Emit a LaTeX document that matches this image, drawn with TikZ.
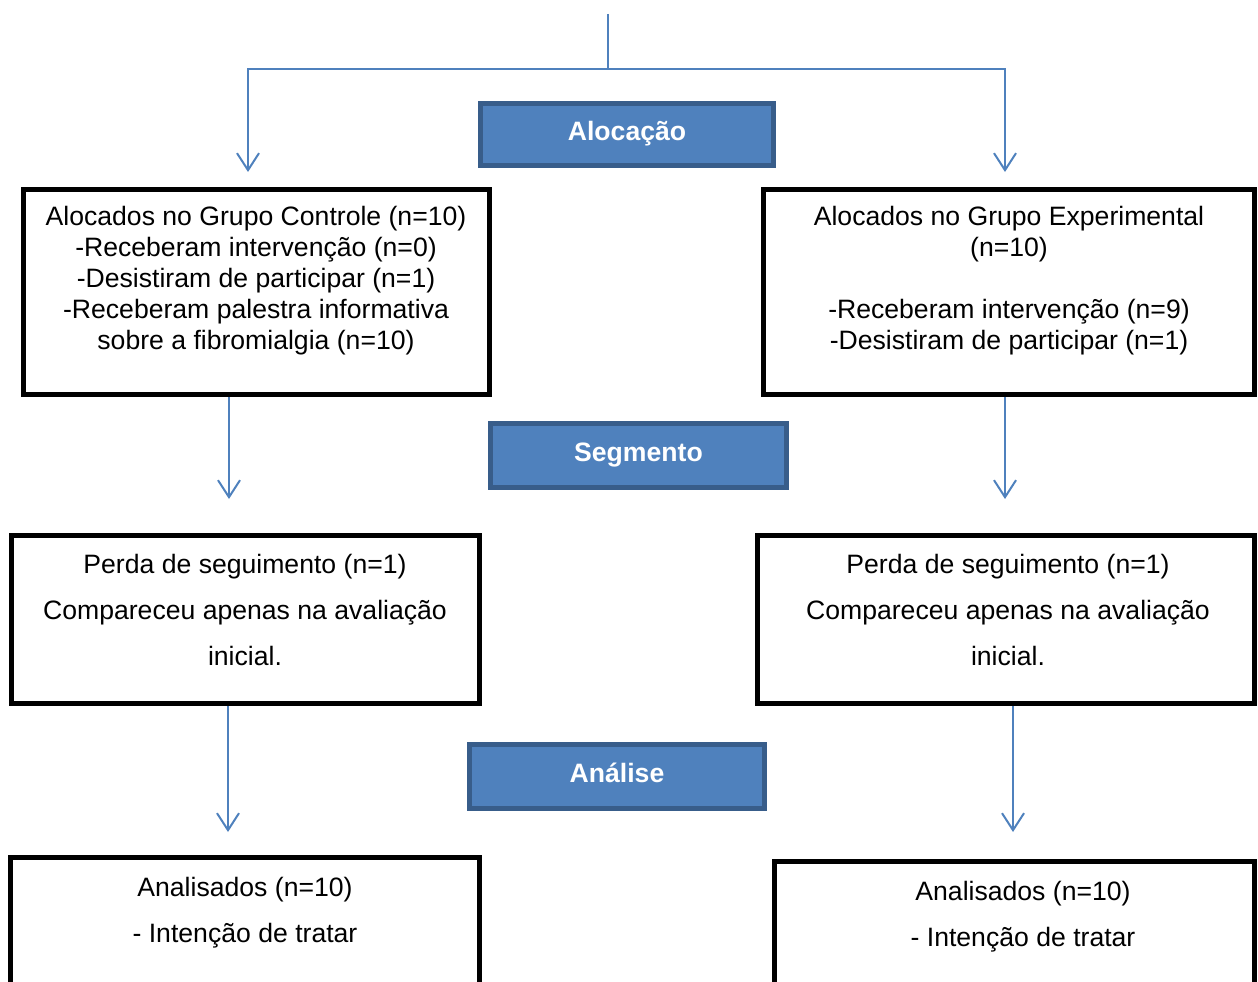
\documentclass[tikz,border=0pt]{standalone}
\usepackage{fontspec}
\setmainfont{Liberation Sans}
\usetikzlibrary{arrows.meta}
\definecolor{lineblue}{RGB}{79,129,189}
\definecolor{boxblue}{RGB}{79,129,189}
\definecolor{boxedge}{RGB}{56,93,138}
\begin{document}
\begin{tikzpicture}[x=1pt,y=-1pt,
  conn/.style={draw=lineblue,line width=2pt},
  arr/.style={conn,-{Straight Barb[length=17pt,width=22pt]}},
  bluebox/.style={draw=boxedge,fill=boxblue,line width=5pt,text=white,
    font=\fontsize{26.6}{31}\selectfont\bfseries,inner sep=0pt,
    text height=19pt,text depth=7pt},
  blackbox/.style={draw=black,line width=5pt,inner sep=0pt,anchor=north west},
  body/.style={align=center,inner sep=0pt,anchor=north,
    font=\fontsize{26.6}{31}\selectfont},
  bodywide/.style={body,font=\fontsize{26.6}{46}\selectfont}]
\path[use as bounding box] (0,0) rectangle (1258,982);
\clip (0,0) rectangle (1258,982);

% black boxes (placed by outer corner)
\node[blackbox,minimum width=466pt,minimum height=205pt] (b1) at (21,187) {};
\node[blackbox,minimum width=491pt,minimum height=205pt] (br1) at (761,187) {};
\node[blackbox,minimum width=468pt,minimum height=168pt] (b2) at (9,533) {};
\node[blackbox,minimum width=497pt,minimum height=168pt] (br2) at (755,533) {};
\node[blackbox,minimum width=469pt,minimum height=150pt] (b3) at (8,855) {};
\node[blackbox,minimum width=480pt,minimum height=150pt] (br3) at (772,859) {};

% texts
\node[body] (t1) at (256,206) {Alocados no Grupo Controle (n=10)\\-Receberam intervenção (n=0)\\-Desistiram de participar (n=1)\\-Receberam palestra informativa\\sobre a fibromialgia (n=10)};
\node[body] (tr1) at (1009,206) {Alocados no Grupo Experimental\\(n=10)\\~\\-Receberam intervenção (n=9)\\-Desistiram de participar (n=1)};
\node[bodywide] (t2) at (245,554) {Perda de seguimento (n=1)\\Compareceu apenas na avaliação\\inicial.};
\node[bodywide] (tr2) at (1008,554) {Perda de seguimento (n=1)\\Compareceu apenas na avaliação\\inicial.};
\node[bodywide] (t3) at (245,877) {Analisados (n=10)\\- Intenção de tratar};
\node[bodywide] (tr3) at (1023,881) {Analisados (n=10)\\- Intenção de tratar};

% blue stage boxes
\node[bluebox,minimum width=293pt,minimum height=62pt] (aloc) at (627,134.5) {Alocação};
\node[bluebox,minimum width=296pt,minimum height=64pt] (seg) at (638.5,455.5) {Segmento};
\node[bluebox,minimum width=295pt,minimum height=64pt] (anal) at (617,776.5) {Análise};

% connectors
\coordinate (top) at (608,14);
\coordinate (junc) at (608,69);
\coordinate (tipl0) at (248,172);
\coordinate (tipr0) at (1005,172);
\coordinate (tipl1) at (229,499);
\coordinate (tipr1) at (1005,499);
\coordinate (tipl2) at (228,832);
\coordinate (tipr2) at (1013,832);
\draw[conn] (top) -- (junc);
\draw[arr] (junc) -| (tipl0);
\draw[arr] (junc) -| (tipr0);
\draw[arr] (tipl1 |- b1.south) -- (tipl1);
\draw[arr] (tipr1 |- br1.south) -- (tipr1);
\draw[arr] (tipl2 |- b2.south) -- (tipl2);
\draw[arr] (tipr2 |- br2.south) -- (tipr2);
\end{tikzpicture}
\end{document}
